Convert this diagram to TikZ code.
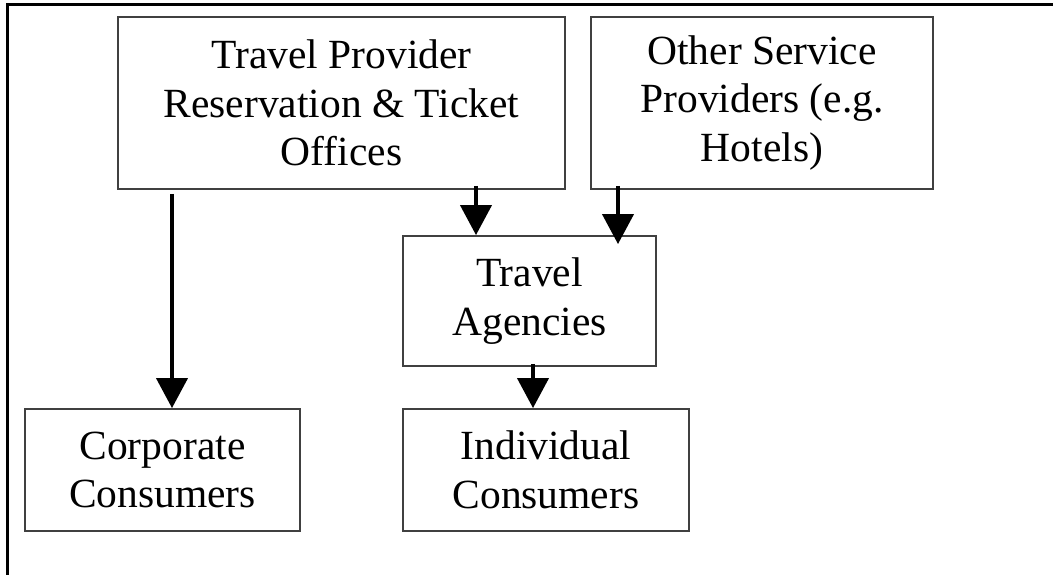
\documentclass[tikz,border=0pt]{standalone}
\usepackage{fontspec}
\setmainfont{Liberation Serif}
\usetikzlibrary{arrows.meta}
\begin{document}
\begin{tikzpicture}[x=1pt,y=1pt,
	box/.style={rectangle,draw=black!75,line width=1.8pt,inner sep=0pt,align=center,font=\fontsize{41.5}{48.5}\selectfont},
	flow/.style={line width=4pt,-{Triangle[width=31pt,length=30pt]}}]
			\useasboundingbox (0,0) rectangle (1053,-575);
			%frame
			\draw[line width=3pt] (7,-575) -- (7,-5) -- (1053,-5);

			%top nodes
			\node [box,minimum width=447pt,minimum height=172pt] (prov) at (341.5,-103) {Travel Provider\\Reservation \& Ticket\\Offices};
			\node [box,minimum width=342pt,minimum height=172pt] (other) at (762,-103) {Other Service\\Providers (e.g.\\Hotels)};

			%middle node
			\node [box,minimum width=253pt,minimum height=130pt] (agency) at (529.5,-301) {Travel\\Agencies};

			%bottom nodes
			\node [box,minimum width=275pt,minimum height=122pt] (corp) at (162.5,-470) {Corporate\\Consumers};
			\node [box,minimum width=286pt,minimum height=122pt] (indiv) at (546,-470) {Individual\\Consumers};

			%edges
			\coordinate (c1) at (172,0);
			\coordinate (c2) at (476,0);
			\coordinate (c3) at (618,0);
			\coordinate (c4) at (533,0);
			\draw[flow,shorten <=4pt] (prov.south -| c1) -- (corp.north -| c1);
			\draw[flow,shorten <=-4pt] (prov.south -| c2) -- (agency.north -| c2);
			\draw[flow,shorten <=-4pt,shorten >=-9pt] (other.south -| c3) -- (agency.north -| c3);
			\draw[flow,shorten <=-3pt] (agency.south -| c4) -- (indiv.north -| c4);
		\end{tikzpicture}
\end{document}
